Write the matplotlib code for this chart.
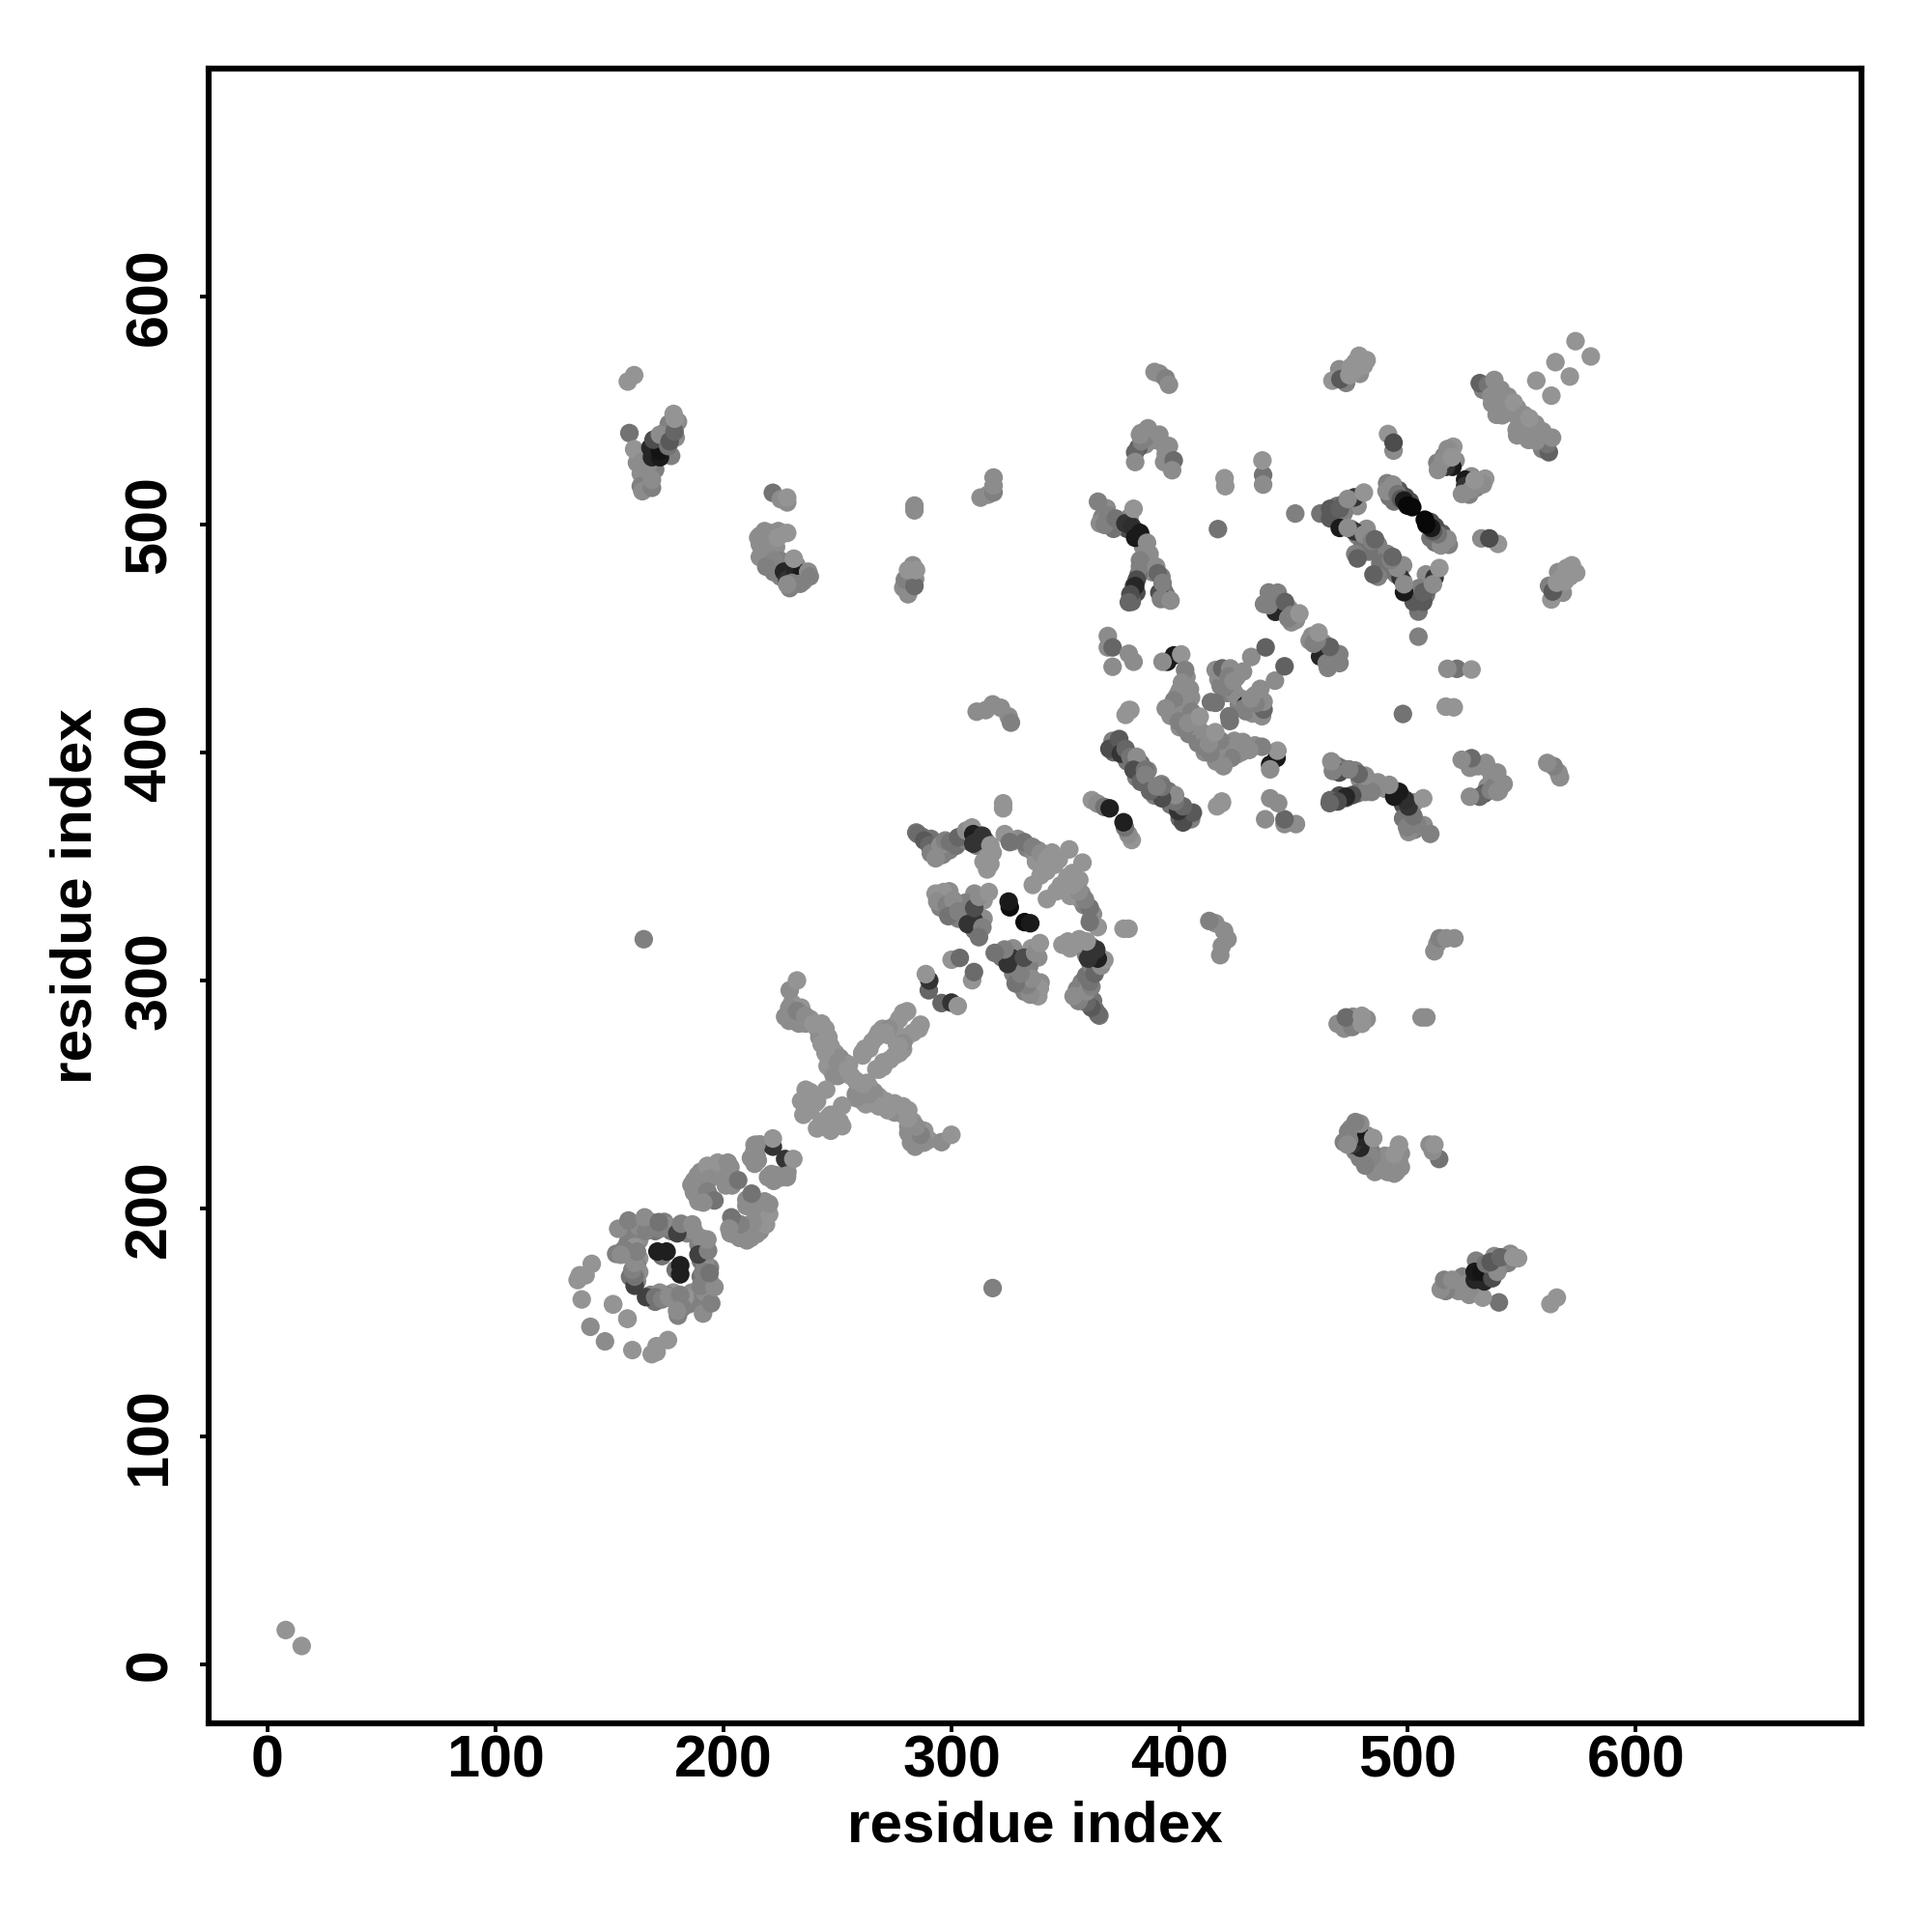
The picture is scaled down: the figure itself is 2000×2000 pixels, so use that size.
import matplotlib
matplotlib.use('Agg')
from matplotlib import pyplot as plt

plt.rcParams['font.family'] = ['Liberation Sans', 'DejaVu Sans']
plt.rcParams['font.weight'] = 'bold'

tick_values = [0, 100, 200, 300, 400, 500, 600]
tick_labels = ['0', '100', '200', '300', '400', '500', '600']
axis_name = 'residue index'

# contacts inside the thick bands, where single discs are hard to tell apart
# these go down first, the discs that can be read one by one sit on top
band_i = [159, 161, 163, 158, 163, 160, 163, 162, 159, 162, 163,
          157, 160, 163, 168, 170, 174, 177, 176, 180, 183, 184, 187, 166, 172,
          187, 187, 190, 190, 190, 193, 195, 198, 200, 203, 189, 192, 194, 199, 204, 201,
          213.5, 215, 216, 212,
          227, 230, 231, 234, 233, 236, 238, 241, 243, 242, 246, 243, 247, 246, 249, 247, 250, 252, 253, 256, 251, 248, 255,
          262, 264, 267, 268, 272, 275, 277,
          238, 234, 236, 240, 238, 241,
          287, 292, 291, 294, 296, 299, 302, 304, 307, 311, 311, 315, 316, 314, 317, 318, 327, 329, 333, 336, 338, 340, 337, 340, 343, 339, 344, 347,
          294, 299, 297, 295, 300, 303, 305, 303, 308, 310, 312, 314, 311, 314, 310, 306,
          372, 371, 374, 376, 377, 380, 383, 382, 384, 386, 381, 379,
          396, 398, 400, 400, 403, 405, 403, 404, 406, 400, 399, 396, 402, 406, 408,
          417, 418, 421, 424, 425, 423, 420,
          441, 444, 446, 440, 449, 448, 451, 443, 437,
          375, 377, 381, 383, 384, 385, 384, 387, 388, 392, 393, 394, 395, 366, 369, 371, 378, 368,
          380, 382, 381, 379,
          389, 385, 393, 395, 396, 383, 385,
          464, 468, 469, 472, 478, 472, 475, 478, 482, 482, 487, 480, 483, 477,
          491, 492, 494, 496, 499, 501,
          533, 537, 540, 542, 544, 539, 545, 548,
          513, 515, 518, 521, 520, 516,
          470, 473, 477, 479, 482,
          162, 166, 166, 170, 171, 174, 176, 175, 176, 180, 179, 177,
          217, 219, 216, 218, 221, 223, 224, 220, 222, 225, 229, 232, 235, 232, 225,
          281, 282, 284, 281, 283]
band_j = [189, 187, 190, 185, 186, 178, 178, 175, 170, 168, 172,
          191, 190, 192, 194, 190, 194, 190, 192, 190, 191, 189, 190, 190, 191,
          207, 212, 208, 212, 216, 215, 218, 217, 216, 218, 203, 204, 205, 219, 213, 210,
          225, 221, 228, 222,
          284, 290, 284, 288, 281, 281, 283, 279, 281, 275, 275, 272, 271, 266, 268, 261, 258, 259, 264, 258, 266, 264, 263,
          270, 270, 275, 277, 276, 280, 283,
          251, 247, 249, 246, 243, 247,
          363, 357, 362, 357, 355, 357, 359, 362, 361, 359, 364, 361, 357, 352, 351, 356, 361, 362, 358, 356, 357, 354, 352, 350, 351, 346, 356, 353,
          336, 339, 331, 332, 330, 333, 327, 327, 328, 322, 322, 327, 333, 335, 338, 334,
          403, 400, 403, 398, 396, 396, 395, 392, 390, 392, 389, 395,
          416, 417, 419, 427, 433, 424, 420, 408, 412, 411, 421, 420, 423, 413, 411,
          432, 429, 426, 426, 433, 428, 434,
          466, 463, 462, 468, 457, 463, 458, 470, 465,
          501, 498, 497, 495, 490, 487, 483, 484, 479, 477, 471, 469, 467, 503, 501, 498, 503, 507,
          473, 478, 470, 466,
          537, 535, 535, 530, 526, 540, 538,
          505, 503, 508, 509, 508, 505, 498, 495, 494, 498, 491, 490, 488, 487,
          518, 512, 510, 515, 512, 510,
          559, 553, 555, 550, 556, 548, 549, 551,
          527, 525, 531, 528, 534, 530,
          568, 562, 571, 566, 572,
          527, 521, 517, 524, 530, 531, 538, 541, 544, 545, 538, 530,
          488, 492, 495, 497, 492, 490, 497, 487, 479, 477, 472, 475, 475, 482, 484,
          477, 474, 476, 471, 482]
band_g = [.55, .55, .58, .5, .55, .55, .58, .5, .45, .5, .55,
          .5, .5, .55, .5, .45, .5, .45, .55, .55, .55, .5, .55, .5, .5,
          .55, .55, .55, .55, .55, .58, .58, .58, .55, .55, .55, .55, .5, .58, .55, .55,
          .55, .55, .55, .55,
          .55, .58, .55, .58, .55, .55, .58, .58, .58, .55, .58, .58, .58, .58, .58, .58, .55, .55, .58, .58, .55, .55, .58,
          .58, .58, .58, .58, .58, .58, .58,
          .58, .58, .58, .58, .58, .58,
          .45, .5, .45, .5, .5, .5, .45, .45, .5, .5, .3, .45, .55, .58, .58, .58, .55, .55, .5, .55, .55, .58, .58, .58, .58, .58, .58, .58,
          .55, .55, .5, .5, .5, .5, .45, .5, .45, .45, .5, .55, .55, .58, .55, .5,
          .4, .4, .4, .4, .45, .5, .45, .4, .5, .5, .5, .45,
          .55, .55, .55, .55, .55, .55, .5, .5, .5, .55, .55, .55, .55, .55, .55,
          .55, .5, .5, .55, .55, .55, .55,
          .5, .45, .45, .5, .55, .55, .55, .5, .5,
          .35, .3, .4, .45, .55, .55, .5, .55, .55, .5, .45, .45, .55, .5, .5, .45, .55, .55,
          .3, .45, .3, .4,
          .55, .55, .55, .55, .55, .55, .5,
          .45, .4, .45, .4, .55, .5, .45, .5, .5, .55, .5, .45, .45, .5,
          .5, .45, .45, .35, .3, .3,
          .5, .55, .55, .55, .55, .55, .55, .55,
          .5, .55, .55, .55, .58, .5,
          .55, .5, .55, .55, .58,
          .55, .55, .55, .5, .4, .4, .45, .45, .5, .55, .55, .5,
          .55, .55, .55, .55, .55, .55, .55, .55, .5, .5, .5, .5, .55, .55, .5,
          .55, .55, .55, .55, .55]

# contact pairs read off the upper triangle (i < j), the map is symmetric
# ring 135-195 and the helix cross
ring_i = [8, 142.2, 136.9, 139.5, 136, 137.8, 151.5, 157.8, 141.6,
          161, 161, 160, 161, 161, 161, 156.4, 152.9, 153.8, 158.3, 165.4, 171.6, 179.7, 181.4, 186.3, 162, 155,
          173, 171, 175,
          185.9, 188.6, 188.6, 188.6, 192.9, 197.4, 201.9, 194, 192.9, 196, 191.1, 200.2, 203.7, 206.4,
          213.6, 214.5, 213.6, 221.6, 221.6, 214.4, 214.4,
          229, 232.2, 228.8, 228.8, 232.2, 235.8, 239.4, 244.7, 244.7, 245.6, 248.3, 250, 254.5,
          260.8, 261, 265.2, 269.7, 272.4, 271, 278.7, 280.5, 279.4,
          236, 236, 239, 245, 235, 237]
ring_j = [15, 175.6, 170.6, 170.6, 168.5, 160, 157.9, 151.6, 148,
          166, 170, 173, 176, 180, 183, 182, 180, 191, 194.6, 196, 193.9, 189, 193.2, 192.9, 181, 179.6,
          179, 181, 181,
          210.2, 214.4, 204.6, 210.2, 218.6, 220, 220, 213, 207.4, 203.4, 202.5, 213, 210, 212.3,
          227.8, 223, 219.5, 227, 230.6, 220.7, 227.8,
          295.6, 299.9, 287.9, 282.2, 286.5, 284.4, 280.8, 278.7, 268.1, 262.4, 258.2, 263.8, 261,
          268.1, 267, 273, 278.7, 278.7, 277, 285.7, 286.4, 285.6,
          252, 245, 248, 252, 241, 246]
ring_g = [.58, .58, .58, .58, .58, .58, .58, .58, .55,
          .25, .45, .5, .55, .55, .58, .5, .5, .55, .5, .55, .45, .25, .5, .55, .5, .55,
          .45, .12, .12,
          .55, .55, .55, .55, .58, .58, .55, .55, .5, .45, .55, .55, .55, .45,
          .55, .55, .55, .2, .58, .55, .55,
          .55, .58, .55, .55, .5, .55, .58, .58, .58, .58, .55, .55, .58,
          .58, .58, .58, .58, .55, .58, .58, .58, .58,
          .58, .58, .58, .58, .58, .58]

# ring 285-380
mid_i = [284.5, 285.2, 288, 290.2, 290.9, 293, 295.1, 297.2, 299.3, 302.9, 306.4, 308.9,
         309.5, 312, 309.5, 313.5, 317, 316, 315.6, 322.6, 322.6, 323.3, 325.5, 331.8, 335.4, 338.9,
         341.7, 343.1, 345.2, 341.7, 351.6, 335.6,
         293, 296.5, 293.7, 297.9, 300.7, 298.6, 302.9, 306.4, 307.1, 309.9, 309.9, 312, 316.3, 313.5, 312,
         325.5, 325,
         300, 303.6, 290, 290.2, 288.7, 361.5, 364, 367, 369.3]
mid_j = [364.8, 364.1, 361.3, 359.2, 355.7, 353.5, 359.2, 361.3, 360.6, 362.7, 365.6, 367,
         364.1, 361.3, 359.9, 363.4, 359.2, 354.3, 348.6, 377.6, 375.4, 364.1, 360.6, 360.6, 358.5, 355.7,
         352.8, 354.3, 350.7, 347.9, 357.4, 341.8,
         338, 338.7, 334.5, 333.1, 335.2, 328.1, 330.2, 330.2, 324.6, 326, 331.7, 336.6, 338.7, 323.2, 318.9,
         332, 334.5,
         309, 309.8, 295.6, 299.9, 302.7, 379, 377.5, 376, 375.4]
mid_g = [.45, .42, .35, .4, .5, .55, .55, .5, .45, .4, .55, .58,
         .12, .2, .2, .2, .58, .58, .58, .58, .58, .58, .45, .45, .5, .55,
         .58, .58, .58, .58, .58, .58,
         .58, .58, .55, .5, .55, .45, .5, .5, .2, .2, .3, .55, .58, .5, .45,
         .05, .1,
         .58, .42, .4, .2, .58, .58, .55, .45, .12]

# block 365-460
block_i = [368.5, 368.5, 370.6, 370.6, 377.7, 379.8, 376.3, 377.7, 378.4,
           370.6, 369.2, 373.5, 374.2, 376.3, 378.4, 381.2, 379.8, 383, 384.8, 385,
           394.6, 397.5, 392.5, 400.7, 402.4, 404.5, 401, 398.9, 397.5, 397.5, 393.9, 401, 399.6, 402.4, 405.2, 403.8, 408.8,
           420.8, 415.8, 418.7, 422.2, 419.4, 421.5, 423.6, 427.8, 431.4, 437.7, 413.7, 415.8,
           442, 439.1, 439.1, 443.4, 446.2, 449, 447.6, 452.5]
block_j = [451, 446, 446, 437.5, 443.2, 439.7, 416.4, 418.5, 418.5,
           405, 401.5, 405.8, 399.4, 401.5, 398, 398, 392.3, 387, 392.3, 390,
           439.7, 442.5, 439.7, 442.9, 436.1, 427.7, 430.5, 424.8, 419.2, 422.7, 419.2, 416.4, 413.5, 410.7, 417.8, 412.8, 415.6,
           429.1, 436.1, 436.8, 436.8, 428.4, 433.3, 431.2, 435.4, 441.8, 446, 422, 421.7,
           461.6, 470.1, 464.5, 467.3, 465.9, 460.2, 458.8, 460.9]
block_g = [.55, .55, .4, .55, .55, .55, .58, .58, .58,
           .5, .3, .35, .2, .4, .45, .55, .3, .4, .45, .5,
           .1, .1, .55, .58, .5, .55, .55, .55, .55, .5, .55, .55, .5, .5, .5, .55, .58,
           .1, .55, .4, .55, .5, .5, .55, .55, .55, .38, .45, .45,
           .15, .5, .5, .5, .38, .5, .5, .58]

# far contacts of the 365-400 strands and the C-terminal blocks
far_i = [389, 391.1, 393.9, 395.3, 381.9, 380.5, 383.3, 386.1, 382.6, 380.5, 391.1, 395.3, 393.2, 393.9, 397.4, 396.7,
         419.7, 420, 436.6, 436.6, 436.3, 450.7, 416.8,
         364.2, 365, 368.5, 367.1, 372, 376.2, 379.1, 382.6, 380.5, 379.8, 385.7, 386.8, 382.6, 382.6, 389.7,
         381.2, 380.5, 378.4, 377.7, 390.4, 391.1, 392.5, 391.8, 396,
         467, 470.5, 474.4, 475.1, 476.6, 478.7, 480.8, 491.4, 493.8, 493.8,
         461.7, 466, 466, 470.2, 476.6, 473.7, 480.8, 470.2, 476.6, 473.7, 480.8, 484.3, 485.7, 478,
         490.7, 493.5, 495.6, 497, 498.4, 499.9, 502,
         519.6, 516.8, 517.5, 515.4, 513.3, 519.4,
         531.6, 535.2, 538, 536.6, 540.8, 543.6, 541.5, 546.5, 556.4, 564.8, 573.6]
far_j = [566.8, 566.1, 564, 561.2, 533.6, 531.5, 536.4, 542.1, 539.3, 527.3, 539.3, 534.3, 527.3, 530.8, 528, 523.7,
         520.2, 516.7, 521.6, 517.4, 528, 504.7, 497.9,
         509.9, 500.4, 504, 499.7, 502.5, 500.4, 499, 496.2, 494.1, 506.8, 491.9, 487, 484.2, 481.4, 481.4,
         475.7, 472.9, 469.3, 465.8, 478.5, 470, 474.3, 467.2, 466.5,
         563, 563.6, 565.4, 569, 567.6, 573.9, 569.7, 539.6, 532.3, 535.8,
         504.7, 506.8, 502.6, 506.8, 511.8, 511.1, 513.9, 498.4, 496.9, 498.4, 495.5, 492.7, 493.4, 485,
         514.6, 517.4, 513.2, 511.1, 510.4, 508.2, 507.5,
         525.2, 525.2, 533, 528, 523.8, 529.4,
         561.9, 561.2, 563.3, 556.3, 559.1, 552, 547.8, 553.4, 563, 571.1, 580.3]
far_g = [.55, .55, .5, .55, .35, .4, .5, .55, .55, .55, .55, .55, .55, .55, .42, .55,
         .58, .58, .45, .55, .58, .5, .45,
         .5, .55, .5, .5, .45, .2, .18, .1, .1, .58, .55, .55, .5, .5, .55,
         .3, .15, .3, .4, .4, .3, .5, .5, .55,
         .58, .35, .58, .58, .58, .58, .58, .58, .55, .3,
         .45, .35, .35, .38, .2, .55, .58, .1, .2, .55, .55, .5, .4, .38,
         .55, .55, .45, .35, .1, .03, .03,
         .1, .2, .55, .55, .55, .58,
         .38, .45, .55, .55, .55, .55, .55, .58, .58, .58, .58]

# long range clusters at the top left
long_i = [158, 160.8, 158.7, 160.8, 164.4, 166.5, 163.7, 163.7, 164.4, 168.6, 168.6, 167.9, 168.6, 172.1, 172.1,
          169.3, 172.1, 175.7, 176.4, 178.5, 178.5, 178.1,
          221.6, 225.1, 227.9, 227.9, 215.2, 215.9, 220.2, 223.7, 227.9, 215.9, 222.3, 218.7,
          226.5, 227.9, 231.5, 234.3, 230.8, 230, 233.6, 227.9, 237.1, 237.8,
          283.7, 283.7, 278.8, 280.9, 279.5, 283.7, 280.9, 284.4,
          312.7, 316, 318.4, 318.4, 318.4,
          311, 315, 318, 321.6, 325, 326, 165]
long_j = [562.6, 565.4, 540, 532.9, 527.3, 525.1, 522.3, 516.7, 514.5, 516, 519.5, 533.6, 529.4, 529.4, 532.2,
          537.1, 539.3, 534.3, 536.4, 540.7, 546.3, 548.4,
          513.8, 511, 509.6, 511.7, 494.1, 491.2, 496.2, 494.1, 496.2, 485.6, 484.2, 481.4,
          479.2, 475.7, 479.2, 478.5, 484.9, 474.3, 473.9, 473.6, 479.2, 477.1,
          508.2, 506.1, 472.2, 469.3, 475.7, 472.9, 479.9, 479.9,
          511.7, 513, 514, 517, 520.5,
          417.8, 418.5, 421, 419.5, 415.7, 413, 318]
long_g = [.58, .58, .45, .58, .55, .55, .55, .5, .55, .5, .55, .15, .15, .1, .08,
          .3, .55, .45, .35, .4, .58, .58,
          .45, .55, .55, .58, .55, .55, .55, .58, .58, .55, .52, .5,
          .15, .2, .15, .1, .58, .5, .5, .55, .55, .5,
          .55, .55, .55, .55, .5, .42, .58, .58,
          .55, .55, .5, .55, .55,
          .55, .55, .55, .55, .55, .5, .5]

contact_i = band_i + ring_i + mid_i + block_i + far_i + long_i
contact_j = band_j + ring_j + mid_j + block_j + far_j + long_j
contact_g = band_g + ring_g + mid_g + block_g + far_g + long_g

fig = plt.figure(figsize=(10, 10), dpi=200)
ax = fig.add_axes([216 / 2000, 1 - 1783.7 / 2000, (1927 - 216) / 2000, (1783.7 - 71.4) / 2000])

colors = [str(g) for g in contact_g]
ax.scatter(contact_i, contact_j, s=48, c=colors, linewidths=0)
ax.scatter(contact_j, contact_i, s=48, c=colors, linewidths=0)

ax.set_xlim(-25.8, 699)
ax.set_ylim(-25.8, 699.7)
ax.set_xticks(tick_values)
ax.set_xticklabels(tick_labels, fontsize=22, fontweight='bold')
ax.set_yticks(tick_values)
ax.set_yticklabels(tick_labels, fontsize=22, fontweight='bold', rotation=90,
                   ha='center', va='baseline', rotation_mode='anchor')
ax.tick_params(axis='x', length=3.4, width=1.4, pad=1)
ax.tick_params(axis='y', length=3.4, width=1.4, pad=12.5)
for s in ax.spines.values():
    s.set_linewidth(2.2)

ax.set_xlabel(axis_name, fontsize=21.7, fontweight='bold')
ax.set_ylabel(axis_name, fontsize=21.7, fontweight='bold')
ax.xaxis.set_label_coords(0.5, -(1891 - 1783.7) / (1783.7 - 71.4), transform=ax.transAxes)
ax.xaxis.label.set_verticalalignment('center')
ax.yaxis.set_label_coords(-(216 - 79) / (1927 - 216), 0.5, transform=ax.transAxes)
ax.yaxis.label.set_verticalalignment('center')

fig.savefig('out.png', dpi=200)
